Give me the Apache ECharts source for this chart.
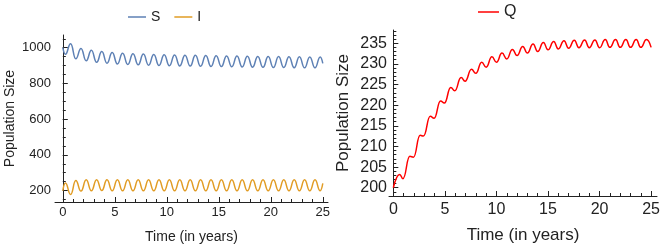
<!DOCTYPE html>
<html><head><meta charset="utf-8">
<script src="https://cdn.jsdelivr.net/npm/echarts@6/dist/echarts.min.js"></script>
<style>html,body{margin:0;padding:0;background:#fff}#c{width:669px;height:249px}</style>
</head><body><div id="c"></div>
<script>
// ---- data ----
const siTimes = [0,0.25,0.75,1.25,1.75,2.25,2.75,3.25,3.75,4.25,4.75,5.25,5.75,6.25,6.75,7.25,7.75,8.25,8.75,9.25,9.75,10.25,10.75,11.25,11.75,12.25,12.75,13.25,13.75,14.25,14.75,15.25,15.75,16.25,16.75,17.25,17.75,18.25,18.75,19.25,19.75,20.25,20.75,21.25,21.75,22.25,22.75,23.25,23.75,24.25,24.75,25];
const sValues = [1000,963,1022,938,996,927,986,918,978,913,973,909,969,906,966,904,964,902,962,900,960,899,959,898,958,897,957,896,956,895,955,894,954,893,953,892,952,891,951,890,950,889,950,889,949,888,949,887,948,887,948,912];
const iValues = [200,243,178,256,197,260,199,261,200,260,199,260,199,260,199,260,199,260,199,260,199,260,199,260,199,260,199,260,199,260,199,260,199,260,199,260,199,260,199,260,199,260,199,260,199,260,199,260,199,260,199,240];
const qTimes = [0,0.62,0.93,1.6,1.95,2.6,2.92,3.58,3.95,4.58,4.95,5.57,5.96,6.57,6.96,7.58,8.0,8.57,9.0,9.56,10.0,10.54,11.0,11.55,12.0,12.55,13.0,13.55,14.0,14.55,15.0,15.55,16.0,16.55,17.0,17.55,18.0,18.55,19.0,19.55,20.0,20.55,21.0,21.55,22.0,22.55,23.0,23.55,24.0,24.55,25.0];
const qValues = [200,203.2,202.2,207.6,207.4,212.7,212.5,217.3,216.8,221.0,220.5,224.3,223.5,226.7,225.8,228.7,227.7,230.4,229.2,231.7,230.4,232.6,231.2,233.5,232.0,234.2,232.6,234.8,233.0,235.2,233.4,235.4,233.6,235.6,233.8,235.7,233.9,235.8,233.9,235.8,233.9,235.9,234.0,235.9,234.0,235.9,234.0,235.9,234.0,235.9,234.0];

const xMajorTicks = [0,5,10,15,20,25];
const xMinorTicks = [0,1,2,3,4,5,6,7,8,9,10,11,12,13,14,15,16,17,18,19,20,21,22,23,24,25];
const leftYMajor = [200,400,600,800,1000];
const leftYMinor = [150,200,250,300,350,400,450,500,550,600,650,700,750,800,850,900,950,1000,1050];
const rightYMajor = [200,205,210,215,220,225,230,235];
const rightYMinor = [198,199,200,201,202,203,204,205,206,207,208,209,210,211,212,213,214,215,216,217,218,219,220,221,222,223,224,225,226,227,228,229,230,231,232,233,234,235,236,237,238];

const seriesNames = ['S','I','Q'];
const colors = ['#5E81B5','#E19C24','#FF0000'];
const xTitle = 'Time (in years)';
const yTitle = 'Population Size';

const FONT = 'Liberation Sans, Arial, sans-serif';
const AX = '#222';
const pairs = (t, v) => t.map((x, i) => [x, v[i]]);
const plain = v => String(v);

function xAxes(grid, min, max, fs, tfs, gap, margin) {
  return [
    { type:'value', gridIndex:grid, position:'bottom', min, max,
      axisLine:{show:true, lineStyle:{color:AX, width:1}},
      axisTick:{show:true, inside:true, length:5, customValues:xMajorTicks, lineStyle:{color:AX}},
      axisLabel:{show:true, customValues:xMajorTicks, fontSize:fs, color:AX, fontFamily:FONT, margin, formatter:plain},
      splitLine:{show:false},
      name:xTitle, nameLocation:'middle', nameGap:gap,
      nameTextStyle:{fontSize:tfs, color:AX, fontFamily:FONT}},
    { type:'value', gridIndex:grid, position:'bottom', min, max,
      axisLine:{show:false},
      axisTick:{show:true, inside:true, length:3, customValues:xMinorTicks, lineStyle:{color:AX}},
      axisLabel:{show:false}, splitLine:{show:false}}
  ];
}
function yAxes(grid, min, max, major, minor, fs, tfs, gap, margin) {
  return [
    { type:'value', gridIndex:grid, position:'left', min, max,
      axisLine:{show:true, lineStyle:{color:AX, width:1}},
      axisTick:{show:true, inside:true, length:5, customValues:major, lineStyle:{color:AX}},
      axisLabel:{show:true, customValues:major, fontSize:fs, color:AX, fontFamily:FONT, margin, formatter:plain},
      splitLine:{show:false},
      name:yTitle, nameLocation:'middle', nameGap:gap,
      nameTextStyle:{fontSize:tfs, color:AX, fontFamily:FONT}},
    { type:'value', gridIndex:grid, position:'left', min, max,
      axisLine:{show:false},
      axisTick:{show:true, inside:true, length:3, customValues:minor, lineStyle:{color:AX}},
      axisLabel:{show:false}, splitLine:{show:false}}
  ];
}

const lineSeries = (name, data, color, xi, yi) => ({
  name, type:'line', data, xAxisIndex:xi, yAxisIndex:yi,
  symbol:'none', smooth:0.5, smoothMonotone:'x',
  lineStyle:{color, width:1.5}, itemStyle:{color}, animation:false
});

const chart = echarts.init(document.getElementById('c'), null, {renderer:'canvas'});
chart.setOption({
  animation:false,
  backgroundColor:'#fff',
  textStyle:{fontFamily:FONT},
  legend:[
    {data:['S','I'], left:123, top:5, icon:'rect', itemWidth:18, itemHeight:1.5, itemGap:14,
     textStyle:{fontSize:14, color:AX, fontFamily:FONT}},
    {data:['Q'], left:473, top:-1, icon:'rect', itemWidth:21, itemHeight:1.5,
     textStyle:{fontSize:16, color:AX, fontFamily:FONT}}
  ],
  grid:[
    {left:55, top:35, width:273, height:167, containLabel:false},
    {left:389, top:30, width:268, height:166, containLabel:false}
  ],
  xAxis:[...xAxes(0,-0.75,25.5,13,14,28,4), ...xAxes(1,-0.42,25.57,16,17,31,6)],
  yAxis:[...yAxes(0,136,1071,leftYMajor,leftYMinor,13,14,38,4),
         ...yAxes(1,198,238.2,rightYMajor,rightYMinor,16,17,37,2)],
  series:[
    lineSeries(seriesNames[0], pairs(siTimes, sValues), colors[0], 0, 0),
    lineSeries(seriesNames[1], pairs(siTimes, iValues), colors[1], 0, 0),
    lineSeries(seriesNames[2], pairs(qTimes, qValues), colors[2], 2, 2)
  ]
});
</script></body></html>
